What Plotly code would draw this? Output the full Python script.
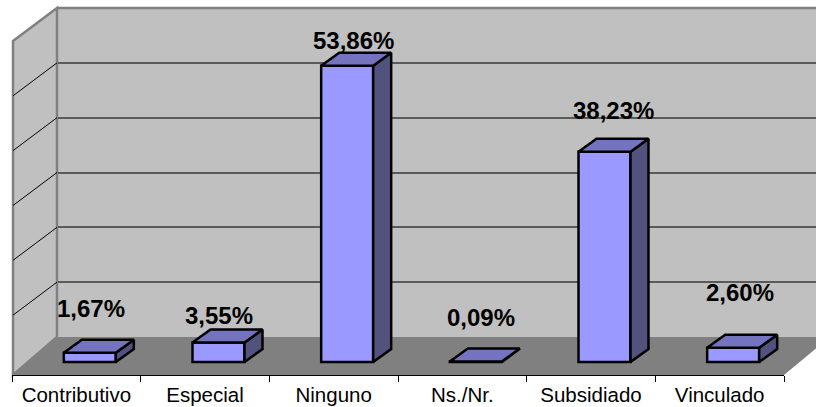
import plotly.graph_objects as go

categories = ["Contributivo", "Especial", "Ninguno", "Ns./Nr.", "Subsidiado", "Vinculado"]
values = [1.67, 3.55, 53.86, 0.09, 38.23, 2.60]
grid_values = [10, 20, 30, 40, 50]

W, H = 816, 407
FRONT_Y, BASE_Y, BACK_Y, TOP_Y = 375, 362, 337, 8
LEFT_X, RIGHT_X, BACK_X = 12, 784, 58
PX_PER_UNIT = 5.5
GRID_PX = (BACK_Y - TOP_Y) / 60
CELL = (RIGHT_X - LEFT_X) / 6
BAR_OFF = 13.5 / CELL
BAR_W = 52 / CELL
DX, DY_UNITS = 18 / CELL, 13 / PX_PER_UNIT
LABEL_DX = [14.5, 13.8, 19.5, 18.5, 22.8, 20.2]
LABEL_DY = [44, 26.5, 24.8, 44.5, 41.7, 55.7]
FONT = "Liberation Sans, Arial, sans-serif"


def px(x):
    return x / W


def py(y):
    return 1 - y / H


def path(points):
    return "M " + " L ".join(f"{px(a):.5f} {py(b):.5f}" for a, b in points) + " Z"


fig = go.Figure()

shapes = [
    dict(type="path", xref="paper", yref="paper", layer="below", line_width=0, fillcolor="#c0c0c0",
         path=path([(BACK_X, TOP_Y), (W, TOP_Y), (W, BACK_Y), (BACK_X, BACK_Y)])),
    dict(type="path", xref="paper", yref="paper", layer="below", line=dict(color="#808080", width=2.5),
         fillcolor="#c0c0c0",
         path=path([(LEFT_X + 1, 41), (BACK_X - 1, TOP_Y), (BACK_X - 1, BACK_Y), (LEFT_X + 1, FRONT_Y)])),
    dict(type="path", xref="paper", yref="paper", layer="below", line_width=0, fillcolor="#808080",
         path=path([(LEFT_X, FRONT_Y), (RIGHT_X, FRONT_Y), (W, 348.5), (W, BACK_Y), (BACK_X, BACK_Y)])),
    dict(type="line", xref="paper", yref="paper", layer="below", line=dict(color="#808080", width=2.5),
         x0=px(BACK_X), x1=1, y0=py(TOP_Y), y1=py(TOP_Y)),
]
for g in grid_values:
    shapes.append(dict(type="line", xref="paper", yref="y", layer="below", line=dict(color="black", width=1),
                       x0=px(BACK_X - 1), x1=px(LEFT_X + 1), y0=g, y1=g - 33 / GRID_PX))

# Grid subplot (back wall)
fig.add_trace(go.Scatter(x=[0, 1], y=[0, 0], mode="lines", line=dict(width=0), hoverinfo="skip",
                         showlegend=False, xaxis="x", yaxis="y"))

# Front faces
fig.add_trace(go.Bar(x=categories, y=values, width=BAR_W, offset=BAR_OFF - BAR_W / 2,
                     marker=dict(color="#9999ff", line=dict(color="black", width=2.5)),
                     xaxis="x2", yaxis="y2", showlegend=False))

# Top and side faces
for i, v in enumerate(values):
    x0 = i + BAR_OFF - BAR_W / 2
    x1 = x0 + BAR_W
    fig.add_trace(go.Scatter(
        x=[x1, x1 + DX, x1 + DX, x1, x1], y=[0, DY_UNITS, v + DY_UNITS, v, 0],
        mode="lines", fill="toself", fillcolor="#52527f", line=dict(color="black", width=2.5),
        xaxis="x3", yaxis="y2", showlegend=False, hoverinfo="skip"))
    fig.add_trace(go.Scatter(
        x=[x0, x0 + DX, x1 + DX, x1, x0], y=[v, v + DY_UNITS, v + DY_UNITS, v, v],
        mode="lines", fill="toself", fillcolor="#7373bf", line=dict(color="black", width=2.5),
        xaxis="x3", yaxis="y2", showlegend=False, hoverinfo="skip"))

annotations = [
    dict(xref="x3", yref="y2", x=i, y=v, xshift=LABEL_DX[i], yshift=LABEL_DY[i],
         text="<b>" + f"{v:.2f}".replace(".", ",") + "%</b>", showarrow=False,
         xanchor="center", yanchor="middle", font=dict(family=FONT, size=24, color="black"))
    for i, v in enumerate(values)
]

bottom = (H - FRONT_Y) / H
fig.update_layout(
    width=W, height=H, autosize=False,
    margin=dict(l=0, r=0, t=0, b=0),
    paper_bgcolor="white", plot_bgcolor="rgba(0,0,0,0)",
    showlegend=False, shapes=shapes, annotations=annotations,
    font=dict(family=FONT, color="black"),
    xaxis=dict(domain=[px(BACK_X), 1], range=[0, 1], visible=False, fixedrange=True),
    yaxis=dict(domain=[bottom, 1], anchor="x", range=[(BACK_Y - FRONT_Y) / GRID_PX, BACK_Y / GRID_PX],
               tickmode="array", tickvals=grid_values, showticklabels=False, ticks="",
               showgrid=True, gridcolor="#5a5a5a", gridwidth=2, zeroline=False, showline=False, fixedrange=True),
    xaxis2=dict(domain=[px(LEFT_X), px(RIGHT_X)], type="category", categoryorder="array",
                categoryarray=categories, range=[-0.5, 5.5], anchor="y2",
                showline=True, linecolor="black", linewidth=1, showgrid=False, zeroline=False,
                ticks="outside", ticklen=6, tickcolor="black", tickwidth=1, tickson="boundaries",
                ticklabelstandoff=1,
                tickfont=dict(family=FONT, size=20.5, color="black"), fixedrange=True),
    xaxis3=dict(overlaying="x2", type="linear", range=[-0.5, 5.5], anchor="y2", visible=False, fixedrange=True),
    yaxis2=dict(domain=[bottom, 1], anchor="x2",
                range=[(BASE_Y - FRONT_Y) / PX_PER_UNIT, BASE_Y / PX_PER_UNIT],
                visible=False, fixedrange=True),
)

fig.write_html("out.html", config=dict(displayModeBar=False),
               post_script="document.body.style.margin='0';document.documentElement.style.overflow='hidden';")
